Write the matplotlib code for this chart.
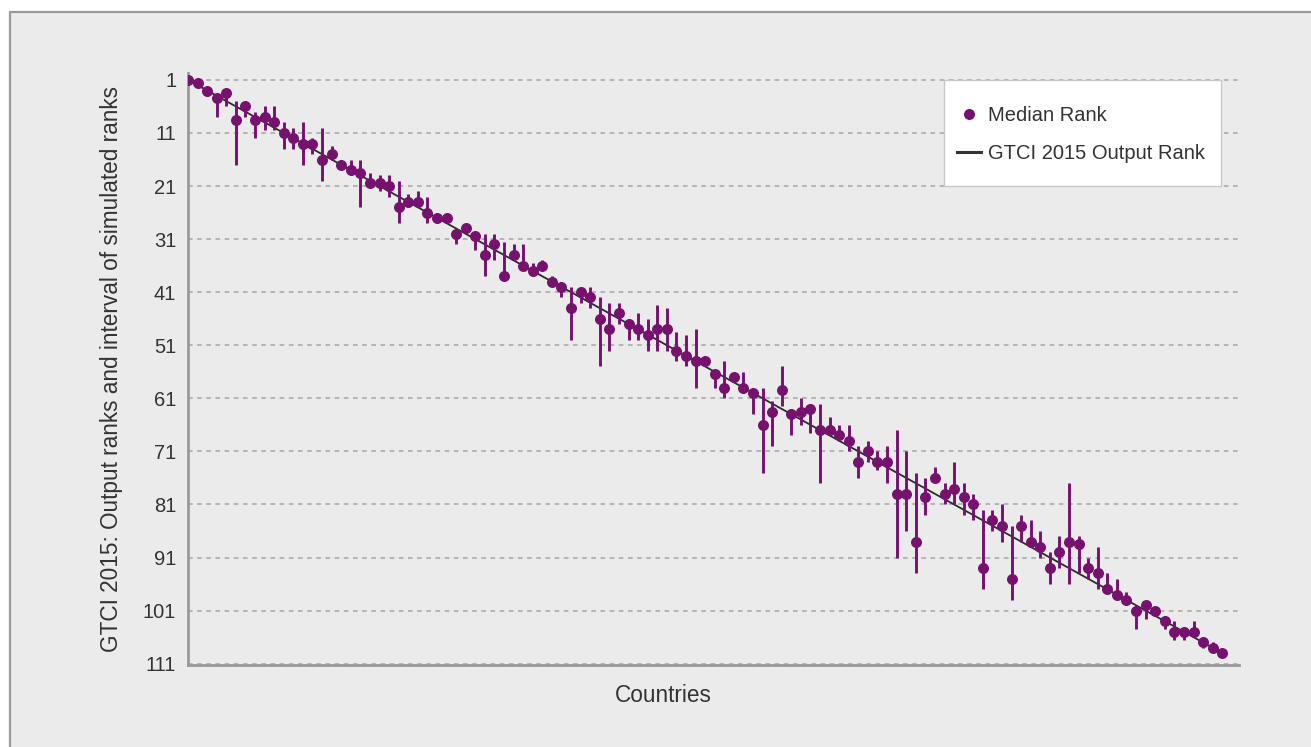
import matplotlib
matplotlib.use("Agg")
import matplotlib.pyplot as plt
from matplotlib.patches import Rectangle
import numpy as np

plt.rcParams['font.family'] = ['Liberation Sans', 'DejaVu Sans']

# Countries ordered by GTCI 2015 output rank
output_rank = list(range(1, 110))

# Median of simulated ranks per country
median_rank = [
    1, 1.5, 3, 4.5, 3.5, 8.5, 6, 8.5, 8, 9,
    11, 12, 13, 13, 16, 15, 17, 18, 18.5, 20.5,
    20.5, 21, 25, 24, 24, 26, 27, 27, 30, 29,
    30.5, 34, 32, 38, 34, 36, 37, 36, 39, 40,
    44, 41, 42, 46, 48, 45, 47, 48, 49, 48,
    48, 52, 53, 54, 54, 56.5, 59, 57, 59, 60,
    66, 63.5, 59.5, 64, 63.5, 63, 67, 67, 68, 69,
    73, 71, 73, 73, 79, 79, 88, 79.5, 76, 79,
    78, 79.5, 81, 93, 84, 85, 95, 85, 88, 89,
    93, 90, 88, 88.5, 93, 94, 97, 98, 99, 101,
    100, 101, 103, 105, 105, 105, 107, 108, 109,
]

# Lower and upper bounds of the simulated rank interval
interval_low = [
    1, 1.5, 3, 4.5, 3.5, 5, 5, 7, 6, 6,
    9, 10, 9, 12, 10, 13.5, 16, 16, 16, 18.5,
    19, 19, 20, 22.5, 22, 23, 26, 26, 30, 29,
    30.5, 30, 30, 31.5, 32, 32, 35.5, 35, 38, 39,
    40, 40, 40, 42, 43, 43, 47, 45, 46, 43.5,
    44, 48.5, 49, 48, 53, 56.5, 54, 57, 56, 59,
    59, 61.5, 55, 63, 61, 62, 62, 64.5, 66, 66,
    70, 69, 71, 70, 67, 71, 75, 76, 74, 77,
    73, 77, 79, 82, 82, 81, 85, 83, 84, 86,
    90, 87, 77, 87, 91, 89, 94, 95, 97.5, 100,
    100, 101, 102, 103, 104, 103, 106.5, 107, 109,
]
interval_high = [
    1, 1.5, 3, 8, 6, 17, 8, 12, 10.5, 10.5,
    14, 14, 17, 15, 20, 16, 17.5, 19, 25, 20.5,
    22, 23, 28, 25, 25, 28, 28, 28, 32, 29,
    33, 38, 35, 38.5, 34, 36, 38, 36, 39, 42,
    50, 43, 44, 55, 52, 47, 50, 50, 52, 52,
    52, 54, 55, 59, 54, 59, 61, 58, 60, 64,
    75, 70, 62.5, 68, 66, 67.5, 77, 67, 69, 71,
    76, 73, 74.5, 77, 91, 86, 94, 83, 76, 81,
    81, 83, 84, 97, 86, 88, 99, 88, 89, 91,
    96, 93, 96, 94, 95, 97, 97, 99, 99, 104.5,
    102.5, 101, 104.5, 106.5, 106.5, 105, 108, 108, 109,
]

y_ticks = [1, 11, 21, 31, 41, 51, 61, 71, 81, 91, 101, 111]

purple = "#76116e"
panel = "#ebebeb"
frame = "#9a9a9a"
text_col = "#333333"

W, H = 1311, 747
fig = plt.figure(figsize=(W / 100, H / 100), dpi=100)
fig.patch.set_facecolor("white")

# grey panel behind the chart
fig.patches.append(Rectangle((10 / W, -0.05), 1.1, 1.05 - 12 / H, transform=fig.transFigure,
                             facecolor=panel, edgecolor=frame, linewidth=1.6, zorder=-5))

ax = fig.add_axes([188 / W, 1 - 665 / H, (1239 - 188) / W, (665 - 73) / H])
ax.set_facecolor(panel)

x = np.array(output_rank)
med = np.array(median_rank)
lo = np.array(interval_low)
hi = np.array(interval_high)

ax.plot(x, output_rank, color="#2b2b2b", lw=1.3, zorder=2, label="GTCI 2015 Output Rank")
ax.vlines(x, lo, hi, color=purple, lw=2.1, zorder=3)
ax.plot(x, med, "o", color=purple, ms=6.9, mec=purple, zorder=4, label="Median Rank",
        linestyle="none")

ax.set_xlim(1, 110.75)
ax.set_ylim(111.25, -0.3)
ax.set_yticks(y_ticks)
ax.set_yticklabels([str(t) for t in y_ticks])
ax.set_xticks([])
ax.tick_params(axis="y", length=0, pad=8.5, labelsize=14.5, labelcolor=text_col)

ax.grid(axis="y", color="#a5a5a5", linestyle=(0, (3, 3)), linewidth=1.1)
ax.set_axisbelow(True)

for side in ("top", "right"):
    ax.spines[side].set_visible(False)
for side in ("left", "bottom"):
    ax.spines[side].set_color(frame)
    ax.spines[side].set_linewidth(2.0)

ax.set_ylabel("GTCI 2015: Output ranks and interval of simulated ranks",
              fontsize=16.3, color=text_col, labelpad=14)
ax.set_xlabel("Countries", fontsize=16.3, color=text_col, va="center")
ax.xaxis.set_label_coords(0.452, -0.0507)

# legend box
ax.add_patch(Rectangle((0.7193, 0.8091), 0.9829 - 0.7193, 0.9882 - 0.8091,
                       transform=ax.transAxes, facecolor="white", edgecolor="#c8c8c8",
                       linewidth=1.0, zorder=4.5))

handles, labels = ax.get_legend_handles_labels()
leg = ax.legend(handles[::-1], labels[::-1], loc="upper left",
                bbox_to_anchor=(0.7317, 0.9443), fontsize=14.5, frameon=False,
                borderpad=0, labelspacing=0.95, handlelength=1.2, handletextpad=0.35,
                borderaxespad=0)
leg.set_zorder(6)
for t in leg.get_texts():
    t.set_color(text_col)
leg.get_lines()[1].set_linewidth(2.2)
leg.get_lines()[1].set_color("#333333")

fig.savefig("out.png", dpi=100, facecolor="white")
